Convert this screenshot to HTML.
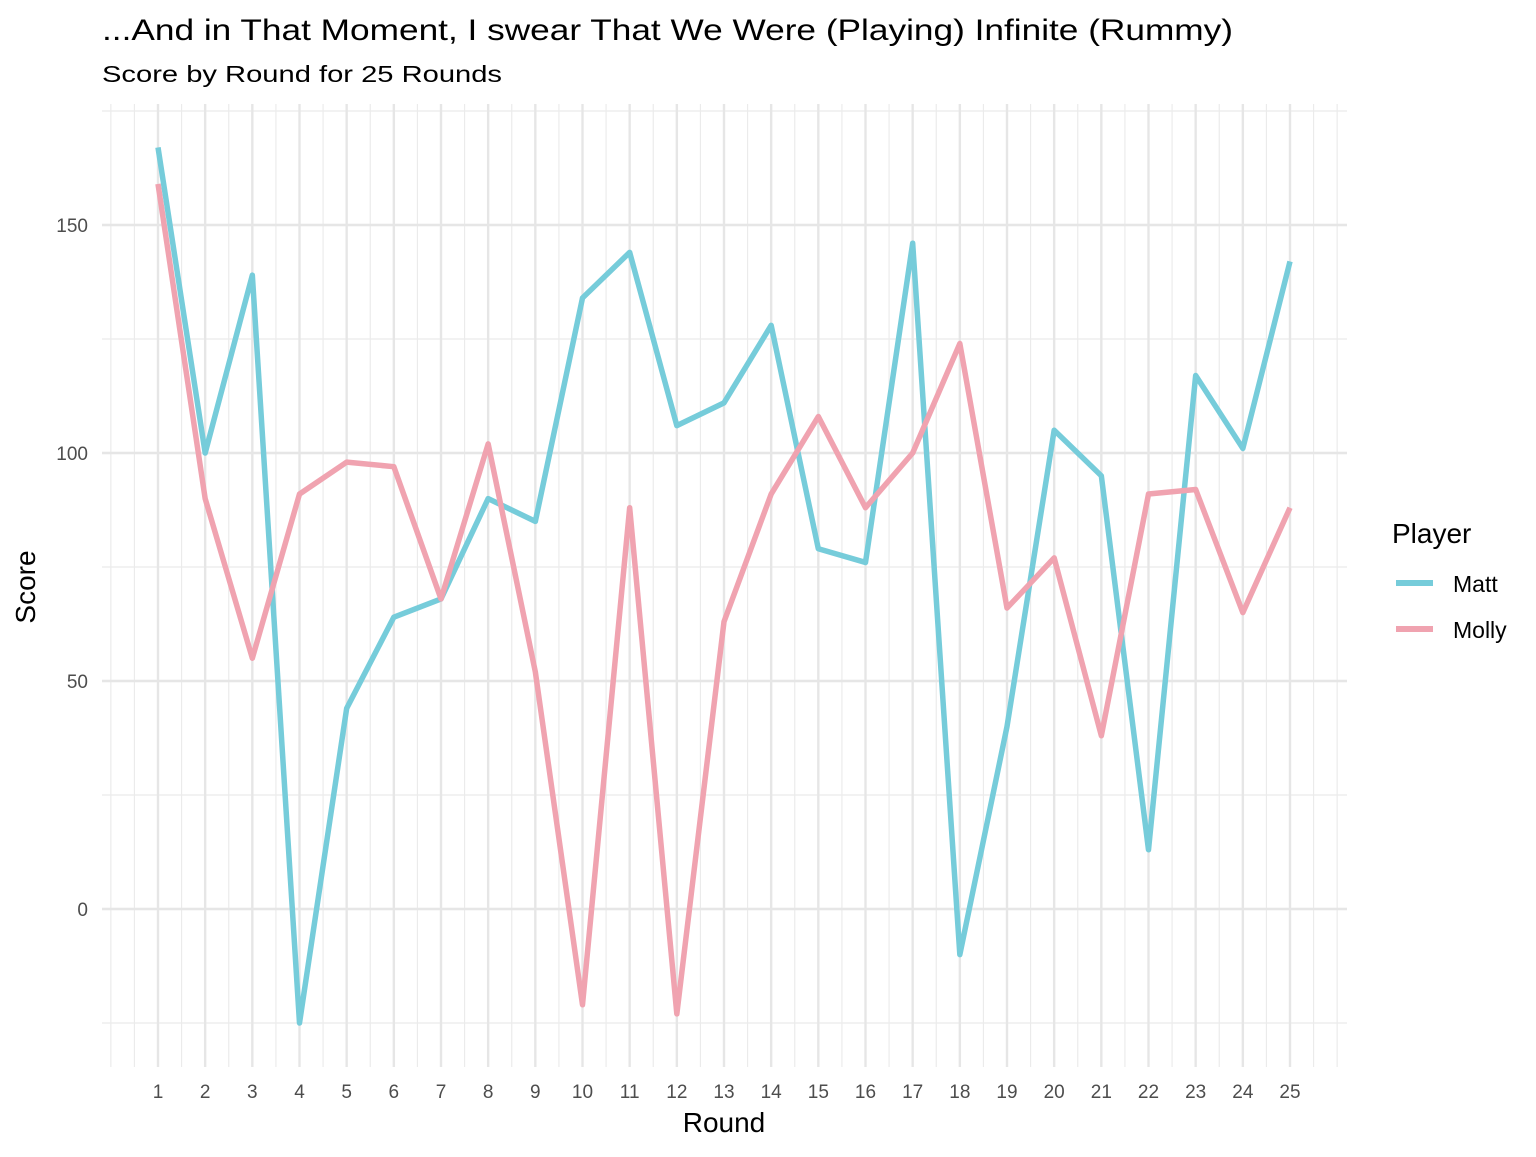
<!DOCTYPE html>
<html><head><meta charset="utf-8"><style>
body{margin:0;background:#fff;font-family:"Liberation Sans",Arial,sans-serif}
</style></head><body>
<svg id="chart" width="1536" height="1152" xmlns="http://www.w3.org/2000/svg" font-family="Liberation Sans, Arial, sans-serif">
<rect width="1536" height="1152" fill="#fff"/>
<text x="102" y="40" font-size="30" textLength="1131" lengthAdjust="spacingAndGlyphs" fill="#000">...And in That Moment, I swear That We Were (Playing) Infinite (Rummy)</text>
<text x="102" y="82" font-size="23" textLength="400" lengthAdjust="spacingAndGlyphs" fill="#000">Score by Round for 25 Rounds</text>
<g id="grid"></g><g id="series"></g><g id="ticks"></g>
<text x="724" y="1132" font-size="28" text-anchor="middle">Round</text>
<text transform="translate(35,587) rotate(-90)" font-size="28" text-anchor="middle">Score</text>
<g>
<text x="1392" y="543" font-size="28">Player</text>
<line x1="1396" y1="583" x2="1433" y2="583" stroke="#76CCDA" stroke-width="6"/>
<text x="1453" y="592" font-size="23">Matt</text>
<line x1="1396" y1="629" x2="1433" y2="629" stroke="#F0A3B0" stroke-width="6"/>
<text x="1453" y="638" font-size="23">Molly</text>
</g>
</svg>
<script>
const rounds=[1,2,3,4,5,6,7,8,9,10,11,12,13,14,15,16,17,18,19,20,21,22,23,24,25];
const matt=[167,100,139,-25,44,64,68,90,85,134,144,106,111,128,79,76,146,-10,40,105,95,13,117,101,142];
const molly=[159,90,55,91,98,97,68,102,52,-21,88,-23,63,91,108,88,100,124,66,77,38,91,92,65,88];
const yTicks=[0,50,100,150];
const NS="http://www.w3.org/2000/svg";
const L=102,R=1347,T=104,B=1067;
const x=v=>158+(v-1)*(1290-158)/24;
const y=v=>909-v*4.56;
function mk(t,a,p){const e=document.createElementNS(NS,t);for(const k in a)e.setAttribute(k,a[k]);p.appendChild(e);return e;}
const g=document.getElementById('grid');
for(let v=-25;v<=175;v+=50){const e=mk('line',{x1:L,x2:R,y1:y(v),y2:y(v),stroke:'#ebebeb','stroke-width':1.2},g);

}
for(let v=0;v<=26;v+=0.5){if(rounds.includes(v))continue;const e=mk('line',{x1:x(v),x2:x(v),y1:T,y2:B,stroke:'#ebebeb','stroke-width':1.2},g);

}
const tk=document.getElementById('ticks');
yTicks.forEach(v=>{const e=mk('line',{x1:L,x2:R,y1:y(v),y2:y(v),stroke:'#e6e6e6','stroke-width':2.4},g);


const t=mk('text',{x:88,y:y(v)+7,'font-size':19,fill:'#4d4d4d','text-anchor':'end'},tk);t.textContent=v;

});
rounds.forEach(v=>{const e=mk('line',{x1:x(v),x2:x(v),y1:T,y2:B,stroke:'#e6e6e6','stroke-width':2.4},g);


const t=mk('text',{x:x(v),y:1098,'font-size':19,fill:'#4d4d4d','text-anchor':'middle'},tk);t.textContent=v;

});
const s=document.getElementById('series');
[[matt,'#76CCDA','matt-line'],[molly,'#F0A3B0','molly-line']].forEach(([d,c,n])=>{
const p=mk('polyline',{points:d.map((v,i)=>x(rounds[i])+','+y(v)).join(' '),fill:'none',stroke:c,'stroke-width':5.5,'stroke-linejoin':'round'},s);

});
</script>
</body></html>
